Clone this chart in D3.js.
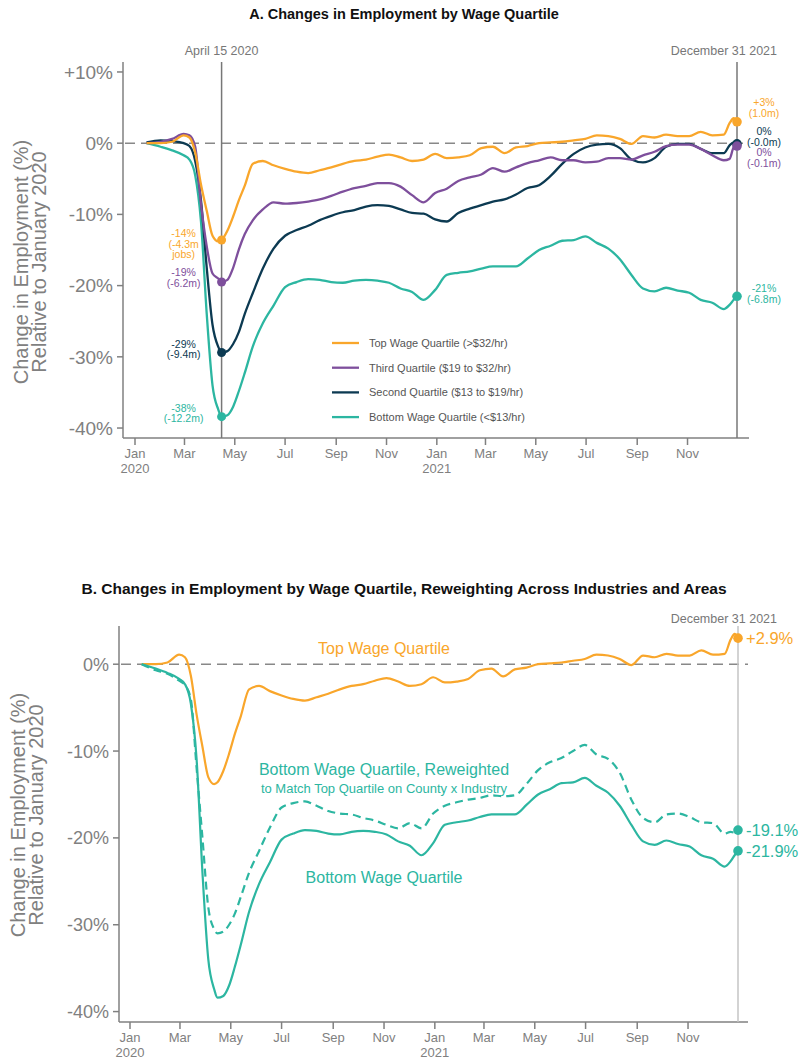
<!DOCTYPE html>
<html>
<head>
<meta charset="utf-8">
<script src="https://cdn.jsdelivr.net/npm/d3@7"></script>
<style>
  body { margin: 0; background: #fff; }
  text { font-family: "Liberation Sans", Arial, Helvetica, sans-serif; }
</style>
</head>
<body>
<div id="chart"></div>
<script>
// weekly-ish sample dates
const dates = [
  "2020-01-15","2020-02-01","2020-02-15","2020-02-29","2020-03-07","2020-03-14","2020-03-21","2020-03-28",
  "2020-04-04","2020-04-11","2020-04-15","2020-04-22","2020-04-29","2020-05-06","2020-05-13","2020-05-23",
  "2020-06-04","2020-06-17","2020-07-01","2020-07-15","2020-07-29","2020-08-12","2020-08-26","2020-09-09",
  "2020-09-23","2020-10-07","2020-10-21","2020-11-04","2020-11-18","2020-12-02","2020-12-16","2020-12-30",
  "2021-01-13","2021-01-27","2021-02-10","2021-02-24","2021-03-10","2021-03-24","2021-04-07","2021-04-21",
  "2021-05-05","2021-05-19","2021-06-02","2021-06-16","2021-06-30","2021-07-14","2021-07-28","2021-08-11",
  "2021-08-25","2021-09-08","2021-09-22","2021-10-06","2021-10-20","2021-11-03","2021-11-17","2021-12-01",
  "2021-12-15","2021-12-22","2021-12-27","2021-12-31"
];

// % change in employment vs Jan 2020
const topQ = [0, 0, 0.2, 1.1, 0.8, -1.3, -5.8, -9.5, -13.0, -13.8, -13.6, -12.3, -10.3, -8.0, -6.0,
  -2.9, -2.5, -3.1, -3.6, -4.0, -4.2, -3.8, -3.4, -2.9, -2.5, -2.3, -1.9, -1.6, -2.0, -2.5,
  -2.3, -1.5, -2.1, -2.0, -1.7, -0.7, -0.5, -1.4, -0.6, -0.4, 0.0, 0.1, 0.2, 0.4, 0.6,
  1.1, 1.0, 0.6, -0.1, 1.0, 0.8, 1.2, 1.0, 1.0, 1.6, 1.1, 1.2, 2.8, 3.5, 3.0];

const thirdQ = [0, 0.2, 0.6, 1.3, 1.1, -0.5, -8.5, -14.5, -18.3, -19.0, -19.5, -19.2, -17.5, -14.9, -12.8,
  -10.8, -9.3, -8.3, -8.5, -8.4, -8.2, -7.9, -7.4, -6.8, -6.3, -6.0, -5.6, -5.6, -6.1, -7.3,
  -8.3, -7.0, -6.4, -5.3, -4.8, -4.4, -3.5, -4.0, -3.4, -2.8, -2.4, -2.0, -2.4, -2.4, -2.7,
  -2.6, -2.1, -2.1, -2.3, -1.7, -1.2, -0.4, -0.2, -0.2, -0.8, -1.7, -2.4, -2.2, -0.6, -0.4];

const secondQ = [0.1, 0.4, 0.3, 0.0, -0.4, -2.5, -8.0, -17.5, -25.5, -28.6, -29.4, -29.2, -28.2, -26.5, -24.0,
  -21.0, -17.6, -14.8, -13.0, -12.2, -11.6, -10.8, -10.2, -9.7, -9.4, -8.9, -8.7, -8.8, -9.3, -9.8,
  -9.9, -10.7, -11.0, -9.8, -9.2, -8.7, -8.2, -7.9, -7.2, -6.3, -5.9, -4.6, -2.9, -1.5, -0.6,
  -0.2, -0.1, -0.7, -2.3, -2.7, -2.1, -0.5, -0.1, -0.1, -0.8, -1.4, -1.4, -0.3, 0.1, -0.1];

const bottomQ = [0, -0.5, -1.0, -1.7, -2.3, -4.5, -11.0, -24.0, -34.0, -37.4, -38.4, -38.2, -37.0, -34.8, -32.3,
  -28.5, -25.3, -22.8, -20.2, -19.5, -19.1, -19.2, -19.5, -19.6, -19.3, -19.2, -19.3, -19.6, -20.4, -20.9,
  -22.0, -20.6, -18.5, -18.2, -18.0, -17.6, -17.3, -17.3, -17.3, -16.2, -15.0, -14.4, -13.7, -13.6, -13.1,
  -14.0, -14.8, -16.3, -18.5, -20.4, -20.8, -20.3, -20.7, -21.0, -22.0, -22.4, -23.3, -22.7, -22.0, -21.5];

const bottomReweighted = [0, -0.7, -1.1, -1.9, -2.4, -4.0, -12.0, -20.0, -28.0, -30.5, -31.0, -30.8, -30.0, -28.7, -26.8,
  -24.0, -21.5, -18.8, -16.5, -16.0, -15.8, -16.3, -16.9, -17.2, -17.3, -17.7, -18.0, -18.5, -18.9, -18.3,
  -18.9, -17.2, -16.3, -15.9, -15.6, -15.4, -15.1, -15.2, -15.1, -13.8, -12.2, -11.3, -10.8, -10.0, -9.3,
  -10.4, -10.9, -12.5, -15.6, -17.7, -18.2, -17.3, -17.2, -17.6, -18.2, -18.3, -19.5, -19.3, -19.4, -19.1];

const seriesNames = ["Top Wage Quartile (>$32/hr)", "Third Quartile ($19 to $32/hr)",
  "Second Quartile ($13 to $19/hr)", "Bottom Wage Quartile (<$13/hr)"];
const seriesColors = ["#F9A62B", "#7E4F9C", "#0C3A52", "#2CB6A1"];

// labels at April 15 2020 and December 31 2021 (panel A)
const troughLabels = [["-14%", "(-4.3m", "jobs)"], ["-19%", "(-6.2m)"], ["-29%", "(-9.4m)"], ["-38%", "(-12.2m)"]];
const endLabels = [["+3%", "(1.0m)"], ["0%", "(-0.1m)"], ["0%", "(-0.0m)"], ["-21%", "(-6.8m)"]];
const endLabelsB = ["+2.9%", "-19.1%", "-21.9%"];

const yTicksA = [10, 0, -10, -20, -30, -40];
const yTicksB = [0, -10, -20, -30, -40];

const W = 801, H = 1063;
const grey = "#808080";
const parse = d3.timeParse("%Y-%m-%d");
const dt = dates.map(parse);
const dayA = parse("2020-04-15"), dayEnd = parse("2021-12-31"), jan2020 = parse("2020-01-01");
const monthTicks = d3.timeMonth.every(2).range(jan2020, parse("2021-12-01"));

const svg = d3.select("#chart").append("svg")
  .attr("width", W).attr("height", H)
  .style("background", "#fff");

function fmtPct(v){
  return (v > 0 ? "+" : "") + v + "%";
}

function drawAxes(g, x, y, yTicks, x0, x1, yTop, yBot, tickFont){
  // y axis
  g.append("line").attr("x1", x0).attr("x2", x0).attr("y1", yTop).attr("y2", yBot)
    .attr("stroke", grey).attr("stroke-width", 1.5);
  // x axis
  g.append("line").attr("x1", x0).attr("x2", x1).attr("y1", yBot).attr("y2", yBot)
    .attr("stroke", grey).attr("stroke-width", 1.5);

  g.selectAll(".ytick").data(yTicks).enter().append("line")
    .attr("x1", x0 - 6).attr("x2", x0)
    .attr("y1", d => y(d)).attr("y2", d => y(d))
    .attr("stroke", grey).attr("stroke-width", 1.5);
  g.selectAll(".ylab").data(yTicks).enter().append("text")
    .attr("x", x0 - 10).attr("y", d => y(d) + tickFont * 0.36)
    .attr("text-anchor", "end").attr("fill", grey)
    .attr("font-size", tickFont + "px")
    .text(fmtPct);

  g.selectAll(".xtick").data(monthTicks).enter().append("line")
    .attr("x1", d => x(d)).attr("x2", d => x(d))
    .attr("y1", yBot).attr("y2", yBot + 7)
    .attr("stroke", grey).attr("stroke-width", 1.5);
  let xl = g.selectAll(".xlab").data(monthTicks).enter().append("text")
    .attr("x", d => x(d)).attr("y", yBot + 20)
    .attr("text-anchor", "middle").attr("fill", grey)
    .attr("font-size", "13px");
  xl.append("tspan").text(d => d3.timeFormat("%b")(d));
  xl.filter(d => d.getMonth() === 0).append("tspan")
    .attr("x", d => x(d)).attr("dy", 14.5)
    .text(d => d.getFullYear());
}

function yTitle(g, xx, cy){
  let t = g.append("text").attr("transform", `translate(${xx},${cy}) rotate(-90)`)
    .attr("text-anchor", "middle").attr("fill", grey).attr("font-size", "20px");
  t.append("tspan").attr("x", 0).attr("y", 0).text("Change in Employment (%)");
  t.append("tspan").attr("x", 0).attr("y", 18).text("Relative to January 2020");
}

// ---------------- Panel A ----------------
const xA = d3.scaleTime().domain([jan2020, dayEnd]).range([135, 737]);
const yA = d3.scaleLinear().domain([11.4, -41.4]).range([62, 438]);
const gA = svg.append("g");

gA.append("text").attr("x", 404).attr("y", 19).attr("text-anchor", "middle")
  .attr("font-size", "14.5px").attr("font-weight", "bold").attr("fill", "#111")
  .text("A. Changes in Employment by Wage Quartile");

drawAxes(gA, xA, yA, yTicksA, 123, 749, 62, 438, 19);
yTitle(gA, 28, 262);

gA.append("line").attr("x1", 125).attr("x2", 749).attr("y1", yA(0)).attr("y2", yA(0))
  .attr("stroke", "#888").attr("stroke-width", 1.4).attr("stroke-dasharray", "10,6");

[dayA, dayEnd].forEach(d => {
  gA.append("line").attr("x1", xA(d)).attr("x2", xA(d)).attr("y1", 62).attr("y2", 438)
    .attr("stroke", "#777").attr("stroke-width", 1.5);
});
gA.append("text").attr("x", xA(dayA)).attr("y", 55).attr("text-anchor", "middle")
  .attr("fill", "#777").attr("font-size", "12.5px").text("April 15 2020");
gA.append("text").attr("x", 777).attr("y", 55).attr("text-anchor", "end")
  .attr("fill", "#777").attr("font-size", "12.5px").text("December 31 2021");

const seriesA = [topQ, thirdQ, secondQ, bottomQ];
const lineA = d3.line().x((d, i) => xA(dt[i])).y(d => yA(d)).curve(d3.curveMonotoneX);

// draw bottom first so the top quartile sits above
[3, 2, 1, 0].forEach(k => {
  gA.append("path").datum(seriesA[k]).attr("d", lineA)
    .attr("fill", "none").attr("stroke", seriesColors[k]).attr("stroke-width", 2.3)
    .attr("stroke-linejoin", "round");
});

const iApr = dates.indexOf("2020-04-15");
const iEnd = dates.length - 1;
[3, 2, 1, 0].forEach(k => {
  gA.append("circle").attr("cx", xA(dt[iApr])).attr("cy", yA(seriesA[k][iApr])).attr("r", 4.5)
    .attr("fill", seriesColors[k]);
  gA.append("circle").attr("cx", xA(dt[iEnd])).attr("cy", yA(seriesA[k][iEnd])).attr("r", 4.8)
    .attr("fill", seriesColors[k]);
});

// trough labels: first baseline offset from the dot
const troughOffsets = [-3, -6, -5, -5];
troughLabels.forEach((lines, k) => {
  let cy = yA(seriesA[k][iApr]);
  let t = gA.append("text").attr("text-anchor", "middle").attr("fill", seriesColors[k])
    .attr("font-size", "10.5px");
  lines.forEach((s, j) => {
    t.append("tspan").attr("x", xA(dayA) - 38).attr("y", cy + troughOffsets[k] + j * 10.5).text(s);
  });
});

// end labels (panel A), positioned by hand around the end dots
const endY = [102, 152.5, 131, 288];
endLabels.forEach((lines, k) => {
  let t = gA.append("text").attr("text-anchor", "middle").attr("fill", seriesColors[k])
    .attr("font-size", "10.5px");
  lines.forEach((s, j) => {
    t.append("tspan").attr("x", 764).attr("y", endY[k] + 3.5 + j * 11).text(s);
  });
});

// legend
const leg = gA.append("g").attr("transform", "translate(332,343)");
seriesNames.forEach((name, k) => {
  leg.append("line").attr("x1", 0).attr("x2", 27).attr("y1", k * 24.7).attr("y2", k * 24.7)
    .attr("stroke", seriesColors[k]).attr("stroke-width", 2.3);
  leg.append("text").attr("x", 37).attr("y", k * 24.7 + 4).attr("fill", "#555")
    .attr("font-size", "11px").text(name);
});

// ---------------- Panel B ----------------
const xB = d3.scaleTime().domain([jan2020, dayEnd]).range([130, 738]);
const yB = d3.scaleLinear().domain([4.4, -41.2]).range([626, 1022]);
const gB = svg.append("g");

gB.append("text").attr("x", 404).attr("y", 594).attr("text-anchor", "middle")
  .attr("font-size", "15.5px").attr("font-weight", "bold").attr("fill", "#111")
  .text("B. Changes in Employment by Wage Quartile, Reweighting Across Industries and Areas");

drawAxes(gB, xB, yB, yTicksB, 119, 748, 626, 1022, 18);
yTitle(gB, 25, 815);

gB.append("line").attr("x1", 121).attr("x2", 748).attr("y1", yB(0)).attr("y2", yB(0))
  .attr("stroke", "#888").attr("stroke-width", 1.4).attr("stroke-dasharray", "10,6");
gB.append("line").attr("x1", xB(dayEnd)).attr("x2", xB(dayEnd)).attr("y1", 626).attr("y2", 1022)
  .attr("stroke", "#c4c4c4").attr("stroke-width", 1.5);
gB.append("text").attr("x", 777).attr("y", 623).attr("text-anchor", "end")
  .attr("fill", "#777").attr("font-size", "12.5px").text("December 31 2021");

const lineB = d3.line().x((d, i) => xB(dt[i])).y(d => yB(d)).curve(d3.curveMonotoneX);
const seriesB = [topQ, bottomReweighted, bottomQ];
const colorsB = [seriesColors[0], seriesColors[3], seriesColors[3]];
const dashB = [null, "8,5", null];
seriesB.forEach((s, k) => {
  gB.append("path").datum(s).attr("d", lineB)
    .attr("fill", "none").attr("stroke", colorsB[k]).attr("stroke-width", 2.2)
    .attr("stroke-dasharray", dashB[k]).attr("stroke-linejoin", "round");
  gB.append("circle").attr("cx", xB(dt[iEnd])).attr("cy", yB(s[iEnd])).attr("r", 4.8)
    .attr("fill", colorsB[k]);
  gB.append("text").attr("x", xB(dt[iEnd]) + 8).attr("y", yB(s[iEnd]) + 6)
    .attr("fill", colorsB[k]).attr("font-size", "16.5px").text(endLabelsB[k]);
});

gB.append("text").attr("x", 384).attr("y", 654).attr("text-anchor", "middle")
  .attr("fill", seriesColors[0]).attr("font-size", "16px").text("Top Wage Quartile");
gB.append("text").attr("x", 384).attr("y", 775).attr("text-anchor", "middle")
  .attr("fill", seriesColors[3]).attr("font-size", "16px").text("Bottom Wage Quartile, Reweighted");
gB.append("text").attr("x", 384).attr("y", 793).attr("text-anchor", "middle")
  .attr("fill", seriesColors[3]).attr("font-size", "13px").text("to Match Top Quartile on County x Industry");
gB.append("text").attr("x", 384).attr("y", 883).attr("text-anchor", "middle")
  .attr("fill", seriesColors[3]).attr("font-size", "16px").text("Bottom Wage Quartile");
</script>
</body>
</html>
